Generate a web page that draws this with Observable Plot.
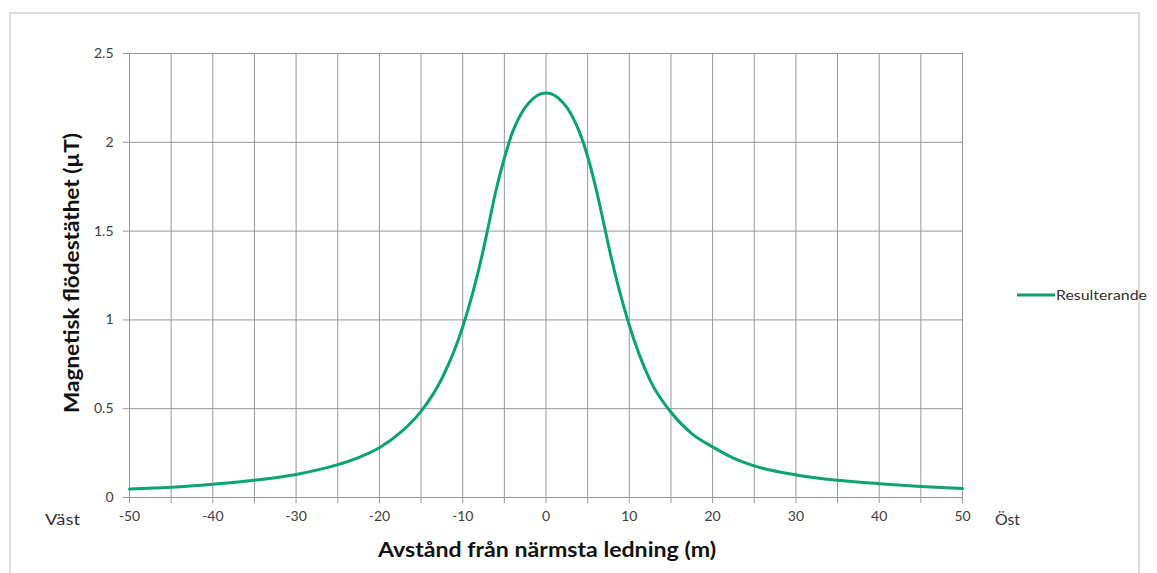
<!DOCTYPE html>
<html><head><meta charset="utf-8">
<script src="https://cdn.jsdelivr.net/npm/d3@7"></script>
<script src="https://cdn.jsdelivr.net/npm/@observablehq/plot@0.6"></script>
<style>
html,body{margin:0;padding:0;background:#fff;}
#wrap{position:relative;width:1157px;height:573px;overflow:hidden;font-family:Lato,"Open Sans",sans-serif;}
#frame{position:absolute;left:9px;top:12px;width:1131px;height:620px;border:2px solid #dedede;box-sizing:border-box;}
#wrap svg{position:absolute;left:0;top:0;}
</style></head><body><div id="wrap"><div id="frame"></div></div>
<script>
// Distance from nearest line (m) and resulting magnetic flux density (µT)
const distance = [-50,-45,-40,-35,-30,-25,-22.5,-20,-17.5,-15,-12.5,-10,-7.5,-7,-6,-5,-4,-3,-2,-1,0,1,2,3,4,5,6,7,7.5,10,12.5,15,17.5,20,22.5,25,30,35,40,45,50];
const flux     = [0.048,0.058,0.075,0.097,0.13,0.185,0.225,0.28,0.365,0.485,0.67,0.96,1.40,1.51,1.73,1.91,2.06,2.16,2.225,2.265,2.278,2.265,2.225,2.16,2.06,1.92,1.74,1.53,1.42,0.97,0.66,0.48,0.36,0.285,0.222,0.178,0.127,0.097,0.078,0.062,0.05];
const xTicks = [-50,-45,-40,-35,-30,-25,-20,-15,-10,-5,0,5,10,15,20,25,30,35,40,45,50];
const yTicks = [0,0.5,1,1.5,2,2.5];
const seriesName = "Resulterande";
const xTitle = "Avstånd från närmsta ledning (m)";
const yTitle = "Magnetisk flödestäthet (µT)";
const westLabel = "Väst", eastLabel = "Öst";

const data = distance.map((d, i) => ({x: d, y: flux[i]}));
const gridColor = "#979797";
const lineColor = "#0aa56e";

const chart = Plot.plot({
  width: 1157, height: 573,
  marginLeft: 129, marginRight: 195, marginTop: 53, marginBottom: 76,
  x: {domain: [-50, 50]},
  y: {domain: [0, 2.5]},
  style: {fontFamily: "Lato, 'Open Sans', sans-serif", fontSize: "14px", color: "#404040", background: "transparent"},
  marks: [
    Plot.gridX(xTicks, {stroke: gridColor, strokeOpacity: 1}),
    Plot.gridY(yTicks, {stroke: gridColor, strokeOpacity: 1}),
    Plot.axisX(xTicks, {tickSize: 6, tickPadding: 8, stroke: gridColor, tickFormat: d => d % 10 === 0 ? String(d) : "", label: null}),
    Plot.axisY(yTicks, {tickSize: 6, tickPadding: 10, stroke: gridColor, tickFormat: d => String(d), label: null}),
    Plot.line(data, {x: "x", y: "y", stroke: lineColor, strokeWidth: 3, curve: "monotone-x"})
  ]
});
document.getElementById("wrap").appendChild(chart);

const svg = d3.select(chart);
const F = "Lato, 'Open Sans', sans-serif";
svg.append("text").attr("x", 547).attr("y", 557).attr("text-anchor", "middle")
  .attr("font-family", F).attr("font-weight", "bold").attr("font-size", 20).attr("fill", "#111")
  .attr("textLength", 338).attr("lengthAdjust", "spacingAndGlyphs")
  .text(xTitle);
svg.append("text").attr("transform", "translate(79,273) rotate(-90)").attr("text-anchor", "middle")
  .attr("font-family", F).attr("font-weight", "bold").attr("font-size", 20).attr("fill", "#111")
  .attr("textLength", 280).attr("lengthAdjust", "spacingAndGlyphs")
  .text(yTitle);
svg.append("text").attr("x", 45).attr("y", 525).attr("text-anchor", "start")
  .attr("font-family", F).attr("font-size", 16).attr("fill", "#333")
  .attr("textLength", 35).attr("lengthAdjust", "spacingAndGlyphs").text(westLabel);
svg.append("text").attr("x", 995).attr("y", 525).attr("text-anchor", "start")
  .attr("font-family", F).attr("font-size", 16).attr("fill", "#333")
  .attr("textLength", 25).attr("lengthAdjust", "spacingAndGlyphs").text(eastLabel);
svg.append("line").attr("x1", 1017).attr("x2", 1055).attr("y1", 295).attr("y2", 295)
  .attr("stroke", lineColor).attr("stroke-width", 3);
svg.append("text").attr("x", 1056).attr("y", 300).attr("text-anchor", "start")
  .attr("font-family", F).attr("font-size", 13).attr("fill", "#333")
  .attr("textLength", 91).attr("lengthAdjust", "spacingAndGlyphs").text(seriesName);
</script></body></html>
